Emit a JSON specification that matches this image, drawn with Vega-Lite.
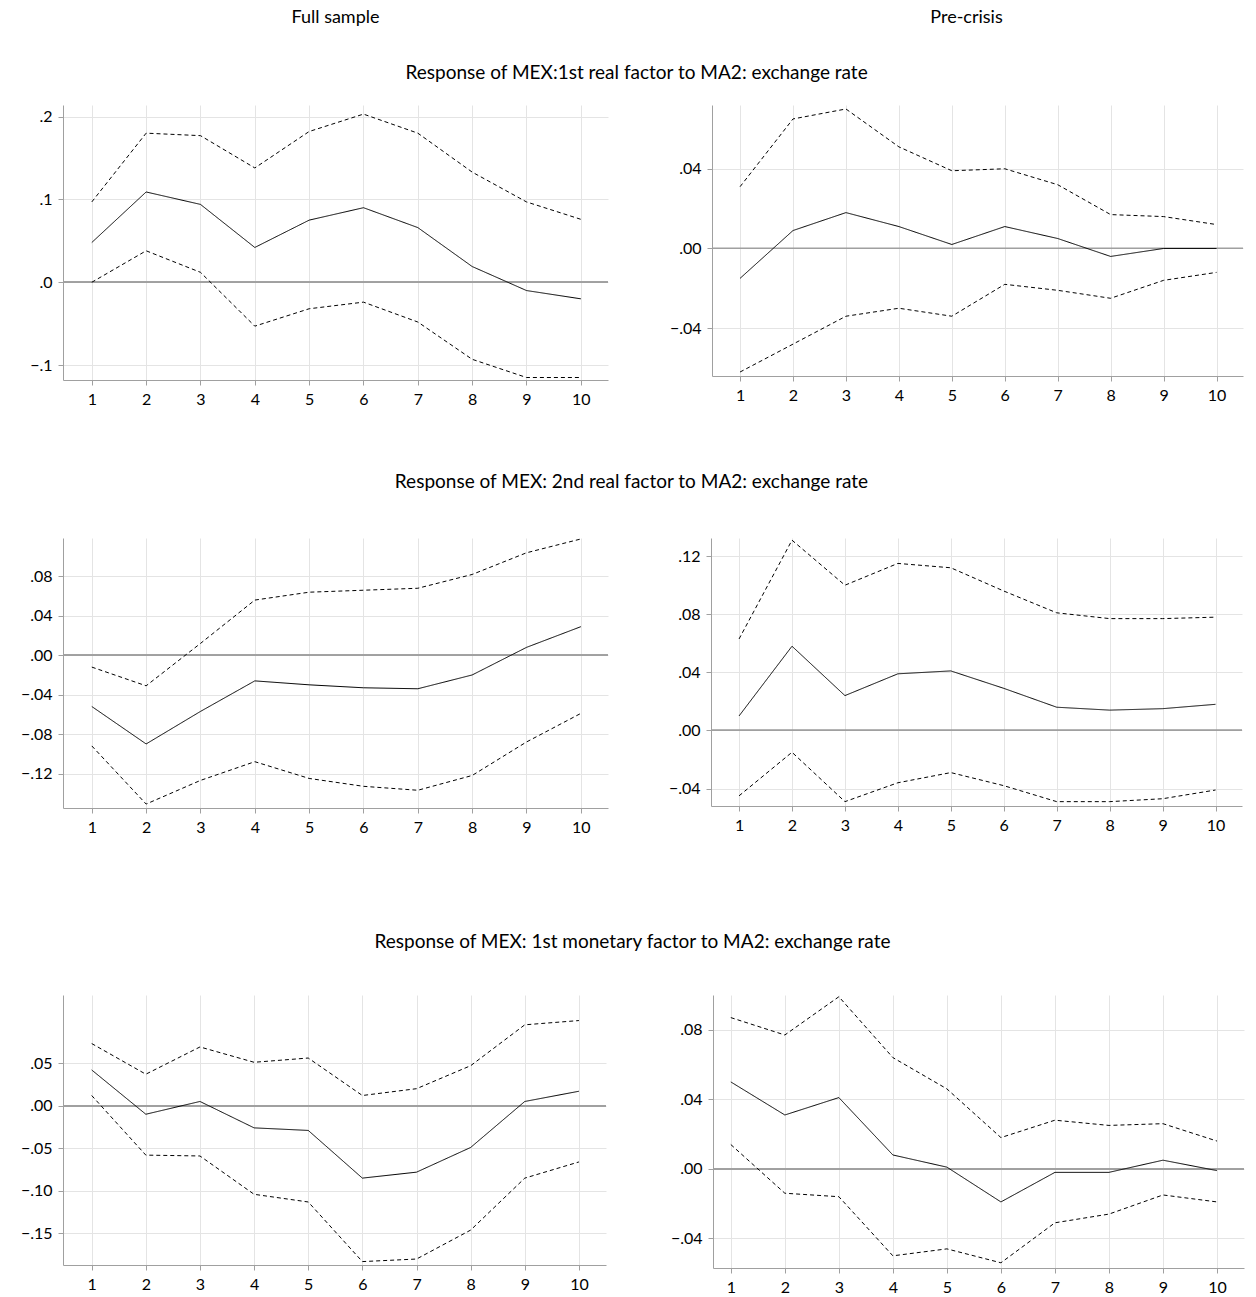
{
"$schema":"https://vega.github.io/schema/vega-lite/v6.json",
"padding":{"left":20,"top":8,"right":5,"bottom":5},
"config":{"view":{"stroke":null},"font":"Lato",
"title":{"fontSize":19,"fontWeight":"normal","font":"Lato","color":"black","anchor":"middle","offset":22},
"axis":{"labelFont":"Lato","labelFontSize":16,"labelColor":"black","title":null,"grid":true,"gridColor":"#e4e4e4","domainColor":"#a0a0a0","tickColor":"#a0a0a0","tickSize":5,"labelPadding":6}},
"datasets":{"irf":[
{"p":"a","h":1,"m":0.048,"u":0.097,"l":0.0},{"p":"a","h":2,"m":0.109,"u":0.180,"l":0.038},{"p":"a","h":3,"m":0.094,"u":0.177,"l":0.012},{"p":"a","h":4,"m":0.042,"u":0.138,"l":-0.053},{"p":"a","h":5,"m":0.075,"u":0.182,"l":-0.032},{"p":"a","h":6,"m":0.090,"u":0.203,"l":-0.024},{"p":"a","h":7,"m":0.066,"u":0.180,"l":-0.048},{"p":"a","h":8,"m":0.019,"u":0.133,"l":-0.093},{"p":"a","h":9,"m":-0.010,"u":0.097,"l":-0.115},{"p":"a","h":10,"m":-0.020,"u":0.076,"l":-0.115},
{"p":"b","h":1,"m":-0.015,"u":0.031,"l":-0.062},{"p":"b","h":2,"m":0.009,"u":0.065,"l":-0.048},{"p":"b","h":3,"m":0.018,"u":0.070,"l":-0.034},{"p":"b","h":4,"m":0.011,"u":0.051,"l":-0.030},{"p":"b","h":5,"m":0.002,"u":0.039,"l":-0.034},{"p":"b","h":6,"m":0.011,"u":0.040,"l":-0.018},{"p":"b","h":7,"m":0.005,"u":0.032,"l":-0.021},{"p":"b","h":8,"m":-0.004,"u":0.017,"l":-0.025},{"p":"b","h":9,"m":0.0,"u":0.016,"l":-0.016},{"p":"b","h":10,"m":0.0,"u":0.012,"l":-0.012},
{"p":"c","h":1,"m":-0.052,"u":-0.012,"l":-0.092},{"p":"c","h":2,"m":-0.090,"u":-0.031,"l":-0.151},{"p":"c","h":3,"m":-0.057,"u":0.012,"l":-0.127},{"p":"c","h":4,"m":-0.026,"u":0.056,"l":-0.108},{"p":"c","h":5,"m":-0.030,"u":0.064,"l":-0.125},{"p":"c","h":6,"m":-0.033,"u":0.066,"l":-0.133},{"p":"c","h":7,"m":-0.034,"u":0.068,"l":-0.137},{"p":"c","h":8,"m":-0.020,"u":0.082,"l":-0.122},{"p":"c","h":9,"m":0.008,"u":0.104,"l":-0.088},{"p":"c","h":10,"m":0.029,"u":0.118,"l":-0.059},
{"p":"d","h":1,"m":0.010,"u":0.063,"l":-0.045},{"p":"d","h":2,"m":0.058,"u":0.131,"l":-0.015},{"p":"d","h":3,"m":0.024,"u":0.100,"l":-0.049},{"p":"d","h":4,"m":0.039,"u":0.115,"l":-0.036},{"p":"d","h":5,"m":0.041,"u":0.112,"l":-0.029},{"p":"d","h":6,"m":0.029,"u":0.096,"l":-0.038},{"p":"d","h":7,"m":0.016,"u":0.081,"l":-0.049},{"p":"d","h":8,"m":0.014,"u":0.077,"l":-0.049},{"p":"d","h":9,"m":0.015,"u":0.077,"l":-0.047},{"p":"d","h":10,"m":0.018,"u":0.078,"l":-0.041},
{"p":"e","h":1,"m":0.042,"u":0.073,"l":0.012},{"p":"e","h":2,"m":-0.010,"u":0.037,"l":-0.058},{"p":"e","h":3,"m":0.005,"u":0.069,"l":-0.059},{"p":"e","h":4,"m":-0.026,"u":0.051,"l":-0.104},{"p":"e","h":5,"m":-0.029,"u":0.056,"l":-0.113},{"p":"e","h":6,"m":-0.085,"u":0.012,"l":-0.183},{"p":"e","h":7,"m":-0.078,"u":0.020,"l":-0.180},{"p":"e","h":8,"m":-0.049,"u":0.047,"l":-0.146},{"p":"e","h":9,"m":0.005,"u":0.095,"l":-0.085},{"p":"e","h":10,"m":0.017,"u":0.100,"l":-0.066},
{"p":"f","h":1,"m":0.050,"u":0.087,"l":0.014},{"p":"f","h":2,"m":0.031,"u":0.077,"l":-0.014},{"p":"f","h":3,"m":0.041,"u":0.099,"l":-0.016},{"p":"f","h":4,"m":0.008,"u":0.064,"l":-0.050},{"p":"f","h":5,"m":0.001,"u":0.046,"l":-0.046},{"p":"f","h":6,"m":-0.019,"u":0.018,"l":-0.054},{"p":"f","h":7,"m":-0.002,"u":0.028,"l":-0.031},{"p":"f","h":8,"m":-0.002,"u":0.025,"l":-0.026},{"p":"f","h":9,"m":0.005,"u":0.026,"l":-0.015},{"p":"f","h":10,"m":-0.001,"u":0.016,"l":-0.019}
]},
"vconcat":[
{"hconcat":[
{"width":545,"height":1,"title":{"text":"Full sample","fontSize":18,"offset":0},"data":{"values":[{}]},"mark":{"type":"rule","opacity":0},"encoding":{}},
{"width":531,"height":1,"title":{"text":"Pre-crisis","fontSize":18,"offset":0},"data":{"values":[{}]},"mark":{"type":"rule","opacity":0},"encoding":{}}
],"spacing":92},
{"width":10,"height":5,"data":{"values":[{}]},"mark":{"type":"rule","opacity":0},"encoding":{}},
{"title":"Response of MEX:1st real factor to MA2: exchange rate","spacing":60,"hconcat":[
{"width":545,"height":275,"data":{"name":"irf"},"transform":[{"filter":"datum.p=='a'"},{"fold":["m","u","l"],"as":["s","v"]}],
"layer":[{"mark":{"type":"rule","color":"#a0a0a0"},"encoding":{"y":{"datum":0,"type":"quantitative"}}},
{"mark":{"type":"line","color":"black","strokeWidth":1},"encoding":{
"x":{"field":"h","type":"quantitative","scale":{"domain":[0.47,10.5],"nice":false},"axis":{"values":[1,2,3,4,5,6,7,8,9,10],"format":"d"}},
"y":{"field":"v","type":"quantitative","scale":{"domain":[-0.118,0.214],"nice":false,"zero":false},"axis":{"values":[-0.1,0,0.1,0.2],"labelExpr":"replace(format(datum.value,'.1f'),'0.','.')"}},
"detail":{"field":"s"},"strokeDash":{"field":"s","type":"nominal","scale":{"domain":["m","u","l"],"range":[[1,0],[4,3],[4,3]]},"legend":null}}}]},
{"width":531,"height":271,"data":{"name":"irf"},"transform":[{"filter":"datum.p=='b'"},{"fold":["m","u","l"],"as":["s","v"]}],
"layer":[{"mark":{"type":"rule","color":"#a0a0a0"},"encoding":{"y":{"datum":0,"type":"quantitative"}}},
{"mark":{"type":"line","color":"black","strokeWidth":1},"encoding":{
"x":{"field":"h","type":"quantitative","scale":{"domain":[0.47,10.5],"nice":false},"axis":{"values":[1,2,3,4,5,6,7,8,9,10],"format":"d"}},
"y":{"field":"v","type":"quantitative","scale":{"domain":[-0.064,0.072],"nice":false,"zero":false},"axis":{"values":[-0.04,0,0.04],"labelExpr":"replace(format(datum.value,'.2f'),'0.','.')"}},
"detail":{"field":"s"},"strokeDash":{"field":"s","type":"nominal","scale":{"domain":["m","u","l"],"range":[[1,0],[4,3],[4,3]]},"legend":null}}}]}
]},
{"width":10,"height":34,"data":{"values":[{}]},"mark":{"type":"rule","opacity":0},"encoding":{}},
{"title":{"text":"Response of MEX: 2nd real factor to MA2: exchange rate","offset":45},"spacing":59,"hconcat":[
{"width":545,"height":270,"data":{"name":"irf"},"transform":[{"filter":"datum.p=='c'"},{"fold":["m","u","l"],"as":["s","v"]}],
"layer":[{"mark":{"type":"rule","color":"#a0a0a0"},"encoding":{"y":{"datum":0,"type":"quantitative"}}},
{"mark":{"type":"line","color":"black","strokeWidth":1},"encoding":{
"x":{"field":"h","type":"quantitative","scale":{"domain":[0.47,10.5],"nice":false},"axis":{"values":[1,2,3,4,5,6,7,8,9,10],"format":"d"}},
"y":{"field":"v","type":"quantitative","scale":{"domain":[-0.155,0.119],"nice":false,"zero":false},"axis":{"values":[-0.12,-0.08,-0.04,0,0.04,0.08],"labelExpr":"replace(format(datum.value,'.2f'),'0.','.')"}},
"detail":{"field":"s"},"strokeDash":{"field":"s","type":"nominal","scale":{"domain":["m","u","l"],"range":[[1,0],[4,3],[4,3]]},"legend":null}}}]},
{"width":531,"height":268,"data":{"name":"irf"},"transform":[{"filter":"datum.p=='d'"},{"fold":["m","u","l"],"as":["s","v"]}],
"layer":[{"mark":{"type":"rule","color":"#a0a0a0"},"encoding":{"y":{"datum":0,"type":"quantitative"}}},
{"mark":{"type":"line","color":"black","strokeWidth":1},"encoding":{
"x":{"field":"h","type":"quantitative","scale":{"domain":[0.47,10.5],"nice":false},"axis":{"values":[1,2,3,4,5,6,7,8,9,10],"format":"d"}},
"y":{"field":"v","type":"quantitative","scale":{"domain":[-0.052,0.1325],"nice":false,"zero":false},"axis":{"values":[-0.04,0,0.04,0.08,0.12],"labelExpr":"replace(format(datum.value,'.2f'),'0.','.')"}},
"detail":{"field":"s"},"strokeDash":{"field":"s","type":"nominal","scale":{"domain":["m","u","l"],"range":[[1,0],[4,3],[4,3]]},"legend":null}}}]}
]},
{"width":10,"height":66,"data":{"values":[{}]},"mark":{"type":"rule","opacity":0},"encoding":{}},
{"title":{"text":"Response of MEX: 1st monetary factor to MA2: exchange rate","offset":43},"spacing":63,"hconcat":[
{"width":543,"height":270,"data":{"name":"irf"},"transform":[{"filter":"datum.p=='e'"},{"fold":["m","u","l"],"as":["s","v"]}],
"layer":[{"mark":{"type":"rule","color":"#a0a0a0"},"encoding":{"y":{"datum":0,"type":"quantitative"}}},
{"mark":{"type":"line","color":"black","strokeWidth":1},"encoding":{
"x":{"field":"h","type":"quantitative","scale":{"domain":[0.47,10.5],"nice":false},"axis":{"values":[1,2,3,4,5,6,7,8,9,10],"format":"d"}},
"y":{"field":"v","type":"quantitative","scale":{"domain":[-0.187,0.130],"nice":false,"zero":false},"axis":{"values":[-0.15,-0.1,-0.05,0,0.05],"labelExpr":"replace(format(datum.value,'.2f'),'0.','.')"}},
"detail":{"field":"s"},"strokeDash":{"field":"s","type":"nominal","scale":{"domain":["m","u","l"],"range":[[1,0],[4,3],[4,3]]},"legend":null}}}]},
{"width":531,"height":273,"data":{"name":"irf"},"transform":[{"filter":"datum.p=='f'"},{"fold":["m","u","l"],"as":["s","v"]}],
"layer":[{"mark":{"type":"rule","color":"#a0a0a0"},"encoding":{"y":{"datum":0,"type":"quantitative"}}},
{"mark":{"type":"line","color":"black","strokeWidth":1},"encoding":{
"x":{"field":"h","type":"quantitative","scale":{"domain":[0.67,10.5],"nice":false},"axis":{"values":[1,2,3,4,5,6,7,8,9,10],"format":"d"}},
"y":{"field":"v","type":"quantitative","scale":{"domain":[-0.057,0.1],"nice":false,"zero":false},"axis":{"values":[-0.04,0,0.04,0.08],"labelExpr":"replace(format(datum.value,'.2f'),'0.','.')"}},
"detail":{"field":"s"},"strokeDash":{"field":"s","type":"nominal","scale":{"domain":["m","u","l"],"range":[[1,0],[4,3],[4,3]]},"legend":null}}}]}
]}
],"spacing":15}
